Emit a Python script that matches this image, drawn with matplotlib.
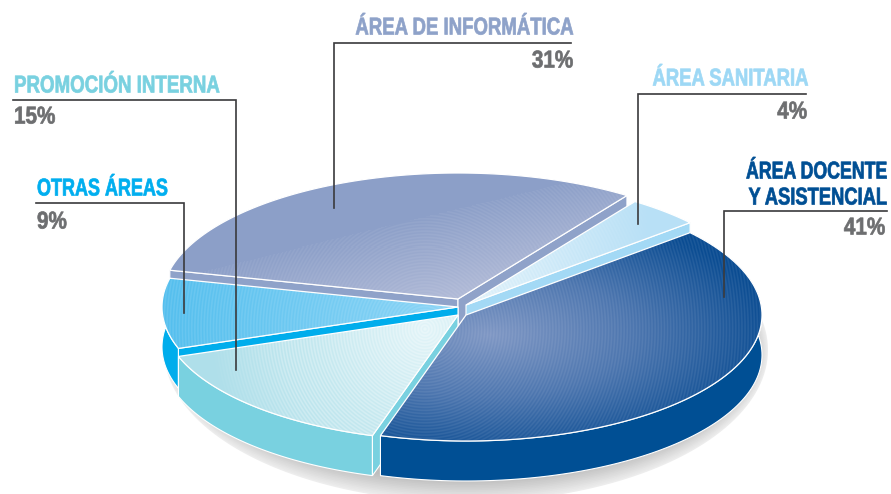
"""Tarta 3D con porciones separadas: reparto por áreas."""

import matplotlib

matplotlib.use("Agg")
import matplotlib.pyplot as plt
import numpy as np
from matplotlib.colors import to_rgb
from matplotlib.patheffects import AbstractPathEffect
from matplotlib.patches import Polygon
from matplotlib.transforms import Affine2D

AREAS = ["docente", "promocion", "otras", "informatica", "sanitaria"]
VALUES = [41, 15, 9, 31, 4]
PCT_LABELS = ["41%", "15%", "9%", "31%", "4%"]

W, H = 891, 494
START = 40.8  # clockwise from here
RX, RY = 296, 126
DEPTH = 40
APEX = {
    "docente": (466, 315),
    "promocion": (458, 315),
    "otras": (458, 307),
    "informatica": (458, 299),
    "sanitaria": (466, 305),
}
SIDE = {
    "docente": "#004f94",
    "promocion": "#79d1e0",
    "otras": "#00adec",
    "informatica": "#8fa2c9",
    "sanitaria": "#a3d9f5",
}
DRAW_ORDER = ["informatica", "sanitaria", "otras", "promocion", "docente"]
FONT = ["Liberation Sans", "DejaVu Sans"]
GREY = "#6d6e70"
LEADER = "#3a3a3c"

yy, xx = np.mgrid[0:H, 0:W] + 0.5
RING = np.hypot(xx - 425, yy - 329)


class Squeeze(AbstractPathEffect):
    """Narrow the glyphs around the anchor, there is no condensed font here."""

    def __init__(self, x0, sx, bold=0.5):
        super().__init__()
        self.x0, self.sx, self.bold = x0, sx, bold

    def draw_path(self, renderer, gc, tpath, affine, rgbFace=None):
        squeeze = Affine2D().translate(-self.x0, 0).scale(self.sx, 1).translate(self.x0, 0)
        gc0 = renderer.new_gc()
        gc0.copy_properties(gc)
        gc0.set_linewidth(self.bold)
        gc0.set_foreground(rgbFace)
        renderer.draw_path(gc0, tpath, affine + squeeze, rgbFace)
        gc0.restore()


def ramp(t, stops):
    t = np.clip(t, 0, 1)
    pos = np.linspace(0, 1, len(stops))
    rgb = np.array([to_rgb(c) for c in stops])
    return np.dstack([np.interp(t, pos, rgb[:, i]) for i in range(3)])


def ripple(img, amp, period=3.1):
    wave = 0.5 + 0.5 * np.sin(2 * np.pi * RING / period)
    return img + (1 - img) * (amp * wave)[..., None]


def top_image(name):
    if name == "docente":
        t = np.hypot((xx - 490) / 285, (yy - 335) / 125)
        return ripple(ramp(t, ["#7f97c4", "#4d76af", "#0a4c92"]), 0.07)
    if name == "promocion":
        t = 1 - RING / 215
        img = ramp(t, ["#afdfea", "#c4e8ef", "#e2f4f8"])
        return ripple(img, 0.28 * np.clip(t * 3, 0, 1))
    if name == "otras":
        t = (xx - 170) / 285
        return ripple(ramp(t, ["#55bfee", "#8dd5f6"]), 0.10)
    if name == "informatica":
        # flat above the diagonal, lighter towards the centre below it
        d = (yy - (265 - 0.242 * (xx - 230))) / 100
        img = ramp(d, ["#8c9fc8", "#b6bed9"])
        return ripple(img, 0.06 * (d > 0))
    t = (650 - xx) / 180
    return ripple(ramp(t, ["#b8e0f6", "#dff1fa"]), 0.25 * np.clip(t, 0, 1))


def arc(cx, cy, a0, a1, dy=0, n=120):
    th = np.radians(np.linspace(a0, a1, n))
    return np.column_stack([cx + RX * np.cos(th), cy - RY * np.sin(th) + dy])


fig = plt.figure(figsize=(W / 100, H / 100), dpi=100)
ax = fig.add_axes([0, 0, 1, 1])
ax.set_xlim(0, W)
ax.set_ylim(H, 0)
ax.axis("off")

# soft shadow under the pie
for k, g in zip(np.linspace(1, 0, 14), np.linspace(0.93, 0.74, 14)):
    th = np.linspace(0, 2 * np.pi, 200)
    ax.add_patch(
        Polygon(
            np.column_stack(
                [466 + (288 + 14 * k) * np.cos(th), 350 + (130 + 22 * k) * np.sin(th)]
            ),
            closed=True,
            fc=str(g),
            ec="none",
            zorder=1,
        )
    )

# angles come from the values, clockwise from START
spans = {}
a = START
for name, v in zip(AREAS, VALUES):
    spans[name] = (a, a - v * 3.6)
    a -= v * 3.6

z = 2
for name in DRAW_ORDER:
    cx, cy = APEX[name]
    a0, a1 = spans[name]
    rim = arc(cx, cy, a0, a1)
    low = arc(cx, cy, a0, a1, DEPTH)
    # outer wall
    ax.add_patch(
        Polygon(np.vstack([rim, low[::-1]]), closed=True, fc=SIDE[name], ec="white", lw=0.8, zorder=z)
    )
    # radial cut faces, only those turned towards the viewer
    for ang, corner, visible in (
        (a0, rim[0], np.cos(np.radians(a0)) < 0),
        (a1, rim[-1], np.cos(np.radians(a1)) > 0),
    ):
        if visible:
            quad = [(cx, cy), corner, (corner[0], corner[1] + DEPTH), (cx, cy + DEPTH)]
            ax.add_patch(Polygon(quad, closed=True, fc=SIDE[name], ec="white", lw=0.8, zorder=z))
    # top surface with gradient, clipped to the slice
    outline = Polygon(
        np.vstack([[(cx, cy)], rim]), closed=True, fc="none", ec="white", lw=0.9, zorder=z + 0.2
    )
    ax.add_patch(outline)
    im = ax.imshow(
        np.clip(top_image(name), 0, 1),
        extent=(0, W, H, 0),
        aspect="auto",
        interpolation="nearest",
        zorder=z + 0.1,
    )
    im.set_clip_path(outline)
    z += 1

ax.set_xlim(0, W)
ax.set_ylim(H, 0)

# leaders
leaders = [
    ([334, 334, 571], [208, 43, 43]),
    ([13, 236, 236], [100, 100, 370]),
    ([36, 184, 184], [203, 203, 313]),
    ([806, 638, 638], [94, 94, 224]),
    ([887, 724, 724], [211, 211, 297]),
]
for lx, ly in leaders:
    ax.plot(lx, ly, color=LEADER, lw=1.2, solid_joinstyle="miter", zorder=20)


def label(x, y, s, color, ha="left", sx=0.78, size=17.5):
    t = ax.text(
        x, y, s, color=color, ha=ha, va="center", family=FONT, fontsize=size, fontweight="bold", zorder=21
    )
    t.set_path_effects([Squeeze(x, sx)])


label(573, 28, "ÁREA DE INFORMÁTICA", "#8ea2c9", "right", sx=0.765)
label(14, 86, "PROMOCIÓN INTERNA", "#79d1e0", sx=0.77)
label(37, 189, "OTRAS ÁREAS", "#00aeef", sx=0.74)
label(808, 79, "ÁREA SANITARIA", "#9dd8f5", "right", sx=0.76)
label(887, 172, "ÁREA DOCENTE", "#004f94", "right", sx=0.73)
label(887, 198, "Y ASISTENCIAL", "#004f94", "right", sx=0.755)

pct = dict(zip(AREAS, PCT_LABELS))
label(573, 61, pct["informatica"], GREY, "right", sx=0.85)
label(14, 117, pct["promocion"], GREY, sx=0.85)
label(37, 222, pct["otras"], GREY, sx=0.85)
label(807, 112, pct["sanitaria"], GREY, "right", sx=0.85)
label(885, 228, pct["docente"], GREY, "right", sx=0.85)

fig.savefig("out.png", dpi=100, facecolor="white")
